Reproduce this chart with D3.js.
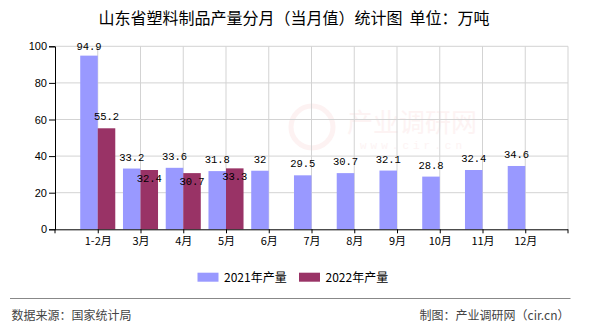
<!DOCTYPE html>
<html><head><meta charset="utf-8">
<script src="https://cdn.jsdelivr.net/npm/d3@7"></script>
<style>body{margin:0;background:#fff}svg{display:block}</style>
</head><body>
<svg id="c" width="590" height="330"></svg>
<script>
const categories = ["1-2月","3月","4月","5月","6月","7月","8月","9月","10月","11月","12月"];
const series2021 = [94.9,33.2,33.6,31.8,32,29.5,30.7,32.1,28.8,32.4,34.6];
const series2022 = [55.2,32.4,30.7,33.3];
const yTicks = [0,20,40,60,80,100];
const seriesNames = ["2021年产量","2022年产量"];
const colors = ["#9999FF","#993366"];

const svg = d3.select("#c");
const X0 = 55, X1 = 568, Y0 = 229.3, Y1 = 46.3;
const x = d3.scalePoint().domain(categories).range([X0, X1]).padding(1);
const y = d3.scaleLinear().domain([0,100]).range([Y0, Y1]);
const step = x.step();
const bw = step * 0.41;
const cjk = "'Noto Sans CJK SC', 'Noto Sans', sans-serif";

// title
svg.append("text").attr("x", 294).attr("y", 18).attr("dy","0.35em")
  .attr("text-anchor","middle").style("font-family", cjk).style("font-size","16px")
  .attr("fill","#000").style("white-space","pre").text("山东省塑料制品产量分月（当月值）统计图  单位：万吨");

// watermark
const wm = svg.append("g").attr("opacity", 0.45);
wm.append("circle").attr("cx", 312).attr("cy", 127).attr("r", 21).attr("fill","none").attr("stroke","#fbe3e3").attr("stroke-width",5);
wm.append("text").attr("x", 347).attr("y", 123).attr("dy","0.35em").style("font-family", cjk)
  .style("font-size","26px").attr("fill","#fbe6e6").text("产业调研网");
wm.append("text").attr("x", 413).attr("y", 145).attr("dy","0.35em").attr("text-anchor","middle")
  .style("font-family","'Liberation Mono', monospace").style("font-size","11px").attr("letter-spacing","4px")
  .attr("fill","#fbe6e6").text("www.cir.cn");

// grid
const grid = svg.append("g").attr("stroke","#d3d3d3").attr("stroke-width",1);
yTicks.filter(t => t > 0).forEach(t => {
  grid.append("line").attr("x1", X0).attr("x2", X1).attr("y1", y(t)).attr("y2", y(t));
});
categories.forEach(c => {
  grid.append("line").attr("x1", x(c)).attr("x2", x(c)).attr("y1", Y1).attr("y2", Y0);
});
grid.append("line").attr("x1", X1).attr("x2", X1).attr("y1", Y1).attr("y2", Y0);

// bars
const bars = svg.append("g");
bars.selectAll("rect.a").data(series2021).join("rect")
  .attr("x", (d,i) => x(categories[i]) - bw).attr("y", d => y(d))
  .attr("width", bw).attr("height", d => Y0 - y(d)).attr("fill", colors[0]);
bars.selectAll("rect.b").data(series2022).join("rect")
  .attr("x", (d,i) => x(categories[i])).attr("y", d => y(d))
  .attr("width", bw).attr("height", d => Y0 - y(d)).attr("fill", colors[1]);

// axes
const yAxis = d3.axisLeft(y).tickValues(yTicks).tickSize(6).tickPadding(2);
const gy = svg.append("g").attr("transform", `translate(${X0},0)`).call(yAxis);
gy.select(".domain").attr("stroke","#000");
gy.selectAll(".tick line").attr("stroke","#000");
gy.selectAll("text").style("font-family","'Liberation Sans', Arial, sans-serif").style("font-size","11px").attr("fill","#000");

const xAxis = d3.axisBottom(x).tickSize(4).tickPadding(4);
const gx = svg.append("g").attr("transform", `translate(0,${Y0})`).call(xAxis);
gx.select(".domain").attr("d", `M${X0},0.5H${X1}`).attr("stroke","#000");
gx.selectAll(".tick line").attr("stroke","#000");
gx.selectAll("text").style("font-family", cjk).style("font-size","11px").attr("fill","#000");
[X0, X1].forEach(px => gx.append("line").attr("x1", px).attr("x2", px).attr("y1", 0).attr("y2", 4).attr("stroke","#000"));

// value labels
const lab = svg.append("g").style("font-family","'Liberation Mono', 'DejaVu Sans Mono', monospace")
  .style("font-size","10.5px").attr("fill","#000").attr("text-anchor","middle");
series2021.forEach((v,i) => {
  lab.append("text").attr("x", x(categories[i]) - bw/2).attr("y", Math.max(y(v) - 8, 50)).text(v);
});
series2022.forEach((v,i) => {
  const t1 = y(series2021[i]), t2 = y(v);
  const yy = Math.abs(t1 - t2) < 14 ? t2 + 11.5 : Math.max(t2 - 8, 50);
  lab.append("text").attr("x", x(categories[i]) + bw/2).attr("y", yy).text(v);
});

// legend
const legX = [197.5, 299];
seriesNames.forEach((n,i) => {
  svg.append("rect").attr("x", legX[i]).attr("y", 272.7).attr("width", 21).attr("height", 9).attr("fill", colors[i]);
  svg.append("text").attr("x", legX[i] + 26.5).attr("y", 277.3).attr("dy","0.35em")
    .style("font-family", cjk).style("font-size","12px").attr("fill","#000").text(n);
});

// footer
svg.append("line").attr("x1", 10).attr("x2", 570.5).attr("y1", 298.5).attr("y2", 298.5).attr("stroke","#888").attr("stroke-width",1);
svg.append("text").attr("x", 11.5).attr("y", 316).attr("dy","0.35em").style("font-family", cjk)
  .style("font-size","12px").attr("fill","#444").text("数据来源：国家统计局");
svg.append("text").attr("x", 569.5).attr("y", 316).attr("dy","0.35em").attr("text-anchor","end").style("font-family", cjk)
  .style("font-size","12px").attr("fill","#444").text("制图：产业调研网（cir.cn）");
</script>
</body></html>
